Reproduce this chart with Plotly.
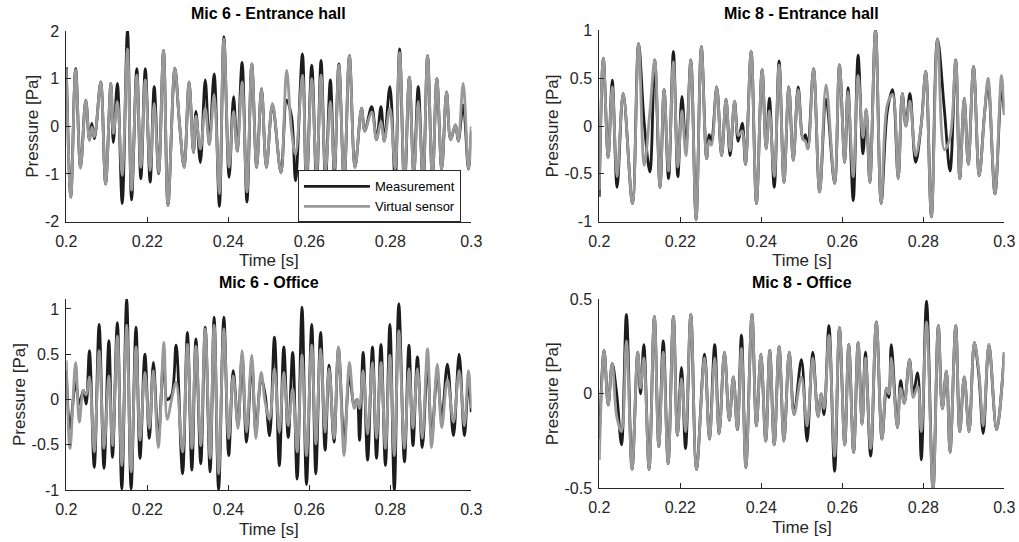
import plotly.graph_objects as go

# ---------------- data ----------------
# Mic 6 - Entrance hall
tl_t = [0.2000,0.2011,0.2023,0.2035,0.2048,0.2057,0.2063,0.2069,0.2073,0.2085,
        0.2097,0.2110,0.2116,0.2126,0.2138,0.2151,0.2161,0.2174,0.2184,0.2195,
        0.2207,0.2217,0.2228,0.2240,0.2251,0.2268,0.2279,0.2291,0.2303,0.2314,
        0.2320,0.2331,0.2343,0.2353,0.2365,0.2378,0.2389,0.2402,0.2413,0.2422,
        0.2434,0.2446,0.2458,0.2470,0.2482,0.2494,0.2509,0.2530,0.2544,0.2556,
        0.2566,0.2583,0.2593,0.2606,0.2618,0.2629,0.2640,0.2652,0.2662,0.2673,
        0.2686,0.2699,0.2713,0.2729,0.2737,0.2754,0.2766,0.2777,0.2785,0.2799,
        0.2812,0.2823,0.2835,0.2847,0.2858,0.2869,0.2881,0.2892,0.2904,0.2915,
        0.2927,0.2939,0.2949,0.2961,0.2968,0.2980,0.2993,0.3000]
tl_meas = [1.24,-1.48,1.21,-0.86,0.55,-0.28,0.06,-0.26,-0.08,0.93,
           -1.21,0.90,-0.34,0.90,-1.62,2.02,-1.54,1.21,-1.10,1.21,
           -1.17,0.83,-0.99,1.59,-1.66,1.22,0.10,-0.86,0.93,-0.55,
           0.31,-0.76,0.97,-0.38,1.10,-1.68,1.88,-1.07,0.62,-0.52,
           1.34,-1.59,1.31,-0.86,0.79,-0.86,0.45,-0.97,0.55,0.21,
           -1.14,1.52,-1.30,1.28,-1.20,1.38,-1.10,0.97,-1.00,1.31,
           -1.20,1.48,-0.86,0.38,-0.10,0.41,-0.28,0.41,-0.31,0.83,
           -1.14,1.62,-1.30,1.03,-1.00,0.83,-1.20,1.48,-1.10,1.00,
           -0.90,0.72,-0.28,0.03,-0.31,0.45,-0.90,-0.10]
tl_virt = [1.20,-1.50,1.18,-0.88,0.55,-0.30,-0.02,-0.22,-0.06,0.93,
           -1.21,0.90,-0.15,0.52,-1.03,1.62,-1.34,1.07,-0.86,0.97,
           -0.93,0.48,-0.97,1.59,-1.66,1.22,0.10,-0.86,0.93,-0.55,
           0.21,-0.48,0.38,-0.38,0.66,-1.41,1.83,-0.86,0.31,-0.52,
           0.93,-1.38,1.31,-0.86,0.79,-0.86,0.48,-0.97,1.17,-0.10,
           -0.59,1.07,-1.10,1.00,-1.00,1.07,-0.95,0.52,-0.90,1.28,
           -1.15,1.48,-0.86,0.38,-0.10,0.30,-0.28,0.10,-0.31,0.38,
           -0.90,1.55,-1.20,1.03,-1.00,0.52,-1.10,1.48,-1.10,1.00,
           -0.90,0.72,-0.28,0.03,-0.31,0.90,-0.90,0.00]

# Mic 8 - Entrance hall
tr_t = [0.2000,0.2010,0.2022,0.2032,0.2044,0.2059,0.2082,0.2097,0.2111,0.2125,
        0.2137,0.2150,0.2160,0.2171,0.2183,0.2194,0.2204,0.2214,0.2226,0.2239,
        0.2252,0.2265,0.2271,0.2277,0.2290,0.2302,0.2313,0.2323,0.2334,0.2343,
        0.2353,0.2361,0.2375,0.2388,0.2402,0.2412,0.2420,0.2432,0.2444,0.2456,
        0.2468,0.2479,0.2491,0.2503,0.2509,0.2515,0.2529,0.2544,0.2560,0.2581,
        0.2593,0.2606,0.2614,0.2627,0.2639,0.2651,0.2659,0.2668,0.2682,0.2696,
        0.2711,0.2724,0.2738,0.2748,0.2757,0.2767,0.2781,0.2795,0.2806,0.2820,
        0.2835,0.2852,0.2866,0.2880,0.2890,0.2901,0.2911,0.2924,0.2938,0.2951,
        0.2960,0.2977,0.2993,0.3000]
tr_meas = [-0.74,0.71,-0.33,0.48,-0.64,0.34,-0.81,0.86,0.03,-0.48,
           0.69,-0.64,0.38,-0.55,0.78,-0.53,0.31,-0.22,0.69,-0.98,
           0.83,-0.34,-0.09,-0.16,0.41,-0.31,0.28,-0.31,0.26,-0.16,
           0.03,-0.40,0.78,-0.81,0.59,-0.24,0.29,-0.64,0.68,-0.59,
           0.41,-0.36,0.41,-0.14,-0.09,-0.24,0.60,-0.69,0.28,-0.60,
           0.64,-0.38,0.40,-0.78,0.74,-0.29,0.17,-0.59,1.01,-0.81,
           0.15,0.38,-0.55,0.34,0.00,0.34,-0.38,0.02,0.57,-0.95,
           0.91,0.17,-0.47,0.69,-0.55,0.29,-0.40,0.62,-0.52,0.12,
           0.45,-0.71,0.40,0.12]
tr_virt = [-0.67,0.71,-0.33,0.41,-0.53,0.34,-0.81,0.86,-0.41,0.15,
           0.69,-0.64,0.38,-0.47,0.67,-0.43,0.16,-0.31,0.69,-0.98,
           0.83,-0.34,-0.15,-0.20,0.41,-0.31,0.28,-0.26,0.26,-0.10,
           -0.05,-0.40,0.78,-0.81,0.59,-0.24,0.16,-0.53,0.64,-0.59,
           0.41,-0.36,0.38,-0.14,-0.16,-0.24,0.60,-0.69,0.43,-0.60,
           0.64,-0.38,0.36,-0.53,0.53,-0.12,0.17,-0.59,1.00,-0.81,
           0.22,0.33,-0.55,0.34,0.00,0.26,-0.31,0.02,0.57,-0.95,
           0.91,-0.25,-0.12,0.69,-0.55,0.29,-0.40,0.62,-0.52,0.12,
           0.50,-0.71,0.53,0.12]

# Mic 6 - Office
bl_t = [0.2000,0.2009,0.2023,0.2032,0.2042,0.2049,0.2057,0.2069,0.2081,0.2093,
        0.2105,0.2114,0.2126,0.2137,0.2149,0.2160,0.2172,0.2182,0.2194,0.2205,
        0.2215,0.2227,0.2241,0.2249,0.2260,0.2271,0.2287,0.2299,0.2310,0.2320,
        0.2332,0.2343,0.2355,0.2365,0.2376,0.2389,0.2401,0.2412,0.2424,0.2434,
        0.2445,0.2458,0.2468,0.2481,0.2491,0.2502,0.2514,0.2526,0.2537,0.2548,
        0.2559,0.2570,0.2582,0.2593,0.2606,0.2616,0.2628,0.2639,0.2649,0.2661,
        0.2672,0.2686,0.2699,0.2711,0.2718,0.2724,0.2733,0.2744,0.2756,0.2766,
        0.2777,0.2788,0.2799,0.2810,0.2821,0.2835,0.2846,0.2856,0.2867,0.2879,
        0.2892,0.2902,0.2916,0.2927,0.2941,0.2956,0.2970,0.2983,0.2993,0.3000]
bl_meas = [0.32,-0.32,0.19,-0.05,0.10,-0.05,0.54,-0.75,0.83,-0.76,
           0.65,-0.64,0.85,-0.99,1.11,-0.99,0.80,-0.65,0.50,-0.43,
           0.41,-0.43,0.49,0.00,0.05,0.60,-0.82,0.74,-0.78,0.67,
           -0.71,0.80,-0.80,0.91,-1.00,0.91,-0.62,0.32,-0.29,0.49,
           -0.47,0.41,-0.36,0.23,0.05,-0.40,0.69,-0.73,0.58,-0.42,
           0.52,-0.88,1.02,-0.94,0.83,-0.82,0.74,-0.56,0.38,-0.47,
           0.56,-0.47,0.26,-0.07,0.00,-0.45,0.52,-0.67,0.58,-0.65,
           0.61,-0.73,0.83,-1.01,1.06,-0.69,0.60,-0.51,0.47,-0.53,
           0.41,-0.43,0.30,-0.21,0.39,-0.40,0.50,-0.40,0.19,-0.14]
bl_virt = [0.43,-0.54,0.41,-0.25,0.10,0.05,0.25,-0.58,0.54,-0.54,
           0.26,-0.51,0.70,-0.73,0.82,-0.80,0.58,-0.45,0.30,-0.32,
           0.32,-0.53,0.63,-0.22,0.00,0.19,-0.58,0.61,-0.54,0.59,
           -0.51,0.78,-0.65,0.82,-0.82,0.78,-0.43,0.26,-0.32,0.54,
           -0.36,0.49,-0.43,0.30,-0.03,-0.22,0.34,-0.36,0.30,-0.29,
           0.12,-0.58,0.49,-0.62,0.60,-0.49,0.56,-0.36,0.34,-0.43,
           0.58,-0.62,0.41,-0.10,0.00,-0.10,0.32,-0.38,0.41,-0.43,
           0.41,-0.54,0.49,-0.62,0.76,-0.54,0.34,-0.32,0.34,-0.43,
           0.56,-0.53,0.39,-0.31,0.22,-0.25,0.32,-0.29,0.32,-0.10]

# Mic 8 - Office
br_t = [0.2000,0.2012,0.2022,0.2032,0.2043,0.2055,0.2067,0.2081,0.2095,0.2102,
        0.2110,0.2123,0.2136,0.2147,0.2158,0.2170,0.2183,0.2193,0.2203,0.2213,
        0.2226,0.2240,0.2260,0.2272,0.2285,0.2296,0.2309,0.2321,0.2331,0.2341,
        0.2351,0.2362,0.2377,0.2388,0.2399,0.2411,0.2421,0.2432,0.2444,0.2456,
        0.2469,0.2481,0.2499,0.2513,0.2527,0.2540,0.2548,0.2555,0.2567,0.2581,
        0.2593,0.2606,0.2616,0.2628,0.2639,0.2649,0.2657,0.2670,0.2684,0.2698,
        0.2709,0.2715,0.2721,0.2736,0.2744,0.2753,0.2766,0.2775,0.2786,0.2795,
        0.2808,0.2824,0.2837,0.2847,0.2857,0.2866,0.2880,0.2890,0.2901,0.2913,
        0.2926,0.2937,0.2948,0.2962,0.2981,0.3000]
br_meas = [-0.24,0.23,-0.06,0.16,0.00,-0.27,0.42,-0.40,0.22,0.00,
           0.26,-0.40,0.41,-0.28,0.28,-0.37,0.41,-0.22,0.14,-0.29,
           0.42,-0.40,0.21,-0.24,0.26,-0.21,0.22,-0.14,0.09,-0.19,
           0.31,-0.39,0.42,-0.17,0.21,-0.25,0.23,-0.27,0.25,-0.25,
           0.22,-0.11,0.18,-0.25,0.22,-0.12,0.00,-0.11,0.36,-0.41,
           0.35,-0.27,0.26,-0.31,0.27,-0.16,0.22,-0.33,0.38,-0.24,
           0.03,-0.02,0.26,-0.18,0.07,-0.05,0.18,0.00,0.11,-0.35,
           0.49,-0.51,0.36,-0.08,0.12,-0.31,0.36,-0.20,0.09,-0.20,
           0.27,0.10,-0.21,0.26,-0.19,0.22]
br_virt = [-0.35,0.23,-0.06,0.16,-0.12,-0.20,0.28,-0.40,0.22,0.03,
           0.19,-0.40,0.41,-0.28,0.22,-0.37,0.41,-0.22,0.08,-0.20,
           0.42,-0.40,0.19,-0.24,0.19,-0.21,0.22,-0.14,0.09,-0.19,
           0.24,-0.39,0.42,-0.17,0.21,-0.25,0.23,-0.27,0.25,-0.25,
           0.22,-0.11,0.09,-0.17,0.19,-0.12,0.00,-0.08,0.31,-0.33,
           0.35,-0.27,0.26,-0.31,0.27,-0.16,0.19,-0.29,0.38,-0.24,
           0.03,0.00,0.19,-0.18,0.03,-0.05,0.18,-0.02,0.04,-0.20,
           0.38,-0.51,0.36,-0.08,0.12,-0.31,0.36,-0.20,0.09,-0.20,
           0.27,0.12,-0.17,0.26,-0.19,0.22]

titles = ["Mic 6 - Entrance hall", "Mic 8 - Entrance hall", "Mic 6 - Office", "Mic 8 - Office"]
series_names = ["Measurement", "Virtual sensor"]
x_ticks = [0.2, 0.22, 0.24, 0.26, 0.28, 0.3]
x_ticktext = ["0.2", "0.22", "0.24", "0.26", "0.28", "0.3"]
y_ticks = [[-2, -1, 0, 1, 2], [-1, -0.5, 0, 0.5, 1], [-1, -0.5, 0, 0.5, 1], [-0.5, 0, 0.5]]
y_ticktext = [["-2", "-1", "0", "1", "2"], ["-1", "-0.5", "0", "0.5", "1"],
              ["-1", "-0.5", "0", "0.5", "1"], ["-0.5", "0", "0.5"]]
y_ranges = [[-2, 2], [-1, 1], [-1.0, 1.11], [-0.5, 0.5]]

panels = [(tl_t, tl_meas, tl_virt), (tr_t, tr_meas, tr_virt),
          (bl_t, bl_meas, bl_virt), (br_t, br_meas, br_virt)]

# ---------------- style ----------------
BLACK = "#1c1c1c"
GRAY = "#999999"
AX = "#262626"
FONT = "Liberation Sans, Arial, Helvetica, sans-serif"

x_domains = [[0.0651, 0.4625], [0.5881, 0.9856], [0.0651, 0.4625], [0.5881, 0.9856]]
y_domains = [[0.591, 0.943], [0.591, 0.944], [0.0959, 0.4483], [0.0991, 0.4478]]

fig = go.Figure()
for i, (t, m, v) in enumerate(panels):
    xa = "x" if i == 0 else f"x{i+1}"
    ya = "y" if i == 0 else f"y{i+1}"
    fig.add_trace(go.Scatter(x=t, y=m, mode="lines", name=series_names[0],
                             line=dict(color=BLACK, width=2.8, shape="spline", smoothing=1.0),
                             xaxis=xa, yaxis=ya, showlegend=(i == 0)))
    fig.add_trace(go.Scatter(x=t, y=v, mode="lines", name=series_names[1],
                             line=dict(color=GRAY, width=2.8, shape="spline", smoothing=1.0),
                             xaxis=xa, yaxis=ya, showlegend=(i == 0)))

layout = dict(
    width=1019, height=542,
    margin=dict(l=0, r=0, t=0, b=0, pad=0, autoexpand=False),
    paper_bgcolor="white", plot_bgcolor="white",
    font=dict(family=FONT, color=AX, size=16),
    legend=dict(x=0.2924, y=0.6855, xanchor="left", yanchor="top",
                bgcolor="white", bordercolor=AX, borderwidth=1,
                font=dict(size=13, color="black", family=FONT), tracegroupgap=0,
                itemwidth=66),
    annotations=[],
)

for i in range(4):
    xk = "xaxis" if i == 0 else f"xaxis{i+1}"
    yk = "yaxis" if i == 0 else f"yaxis{i+1}"
    ya = "y" if i == 0 else f"y{i+1}"
    xa = "x" if i == 0 else f"x{i+1}"
    layout[xk] = dict(domain=x_domains[i], anchor=ya, range=[0.2, 0.3],
                      tickvals=x_ticks, ticktext=x_ticktext, automargin=False,
                      showline=True, linecolor=AX, linewidth=1, mirror=False,
                      ticks="inside", ticklen=5, tickcolor=AX, tickwidth=1,
                      showgrid=False, zeroline=False, ticklabelstandoff=5,
                      tickfont=dict(size=16, color=AX, family=FONT),
                      title=dict(text="Time [s]", font=dict(size=17, color=AX, family=FONT), standoff=5))
    layout[yk] = dict(domain=y_domains[i], anchor=xa, range=y_ranges[i],
                      tickvals=y_ticks[i], ticktext=y_ticktext[i], automargin=False,
                      showline=True, linecolor=AX, linewidth=1, mirror=False,
                      ticks="inside", ticklen=5, tickcolor=AX, tickwidth=1,
                      showgrid=False, zeroline=False, ticklabelstandoff=3,
                      tickfont=dict(size=16, color=AX, family=FONT),
                      title=dict(text="Pressure [Pa]", font=dict(size=17, color=AX, family=FONT), standoff=1))
    layout["annotations"].append(dict(
        text="<b>" + titles[i] + "</b>", xref="paper", yref="paper",
        x=(x_domains[i][0] + x_domains[i][1]) / 2, y=y_domains[i][1] + 0.012,
        xanchor="center", yanchor="bottom", showarrow=False,
        font=dict(size=16, color="black", family=FONT)))

fig.update_layout(**layout)
fig.write_html("out.html", config={"displayModeBar": False},
               post_script="document.body.style.margin='0px';")
